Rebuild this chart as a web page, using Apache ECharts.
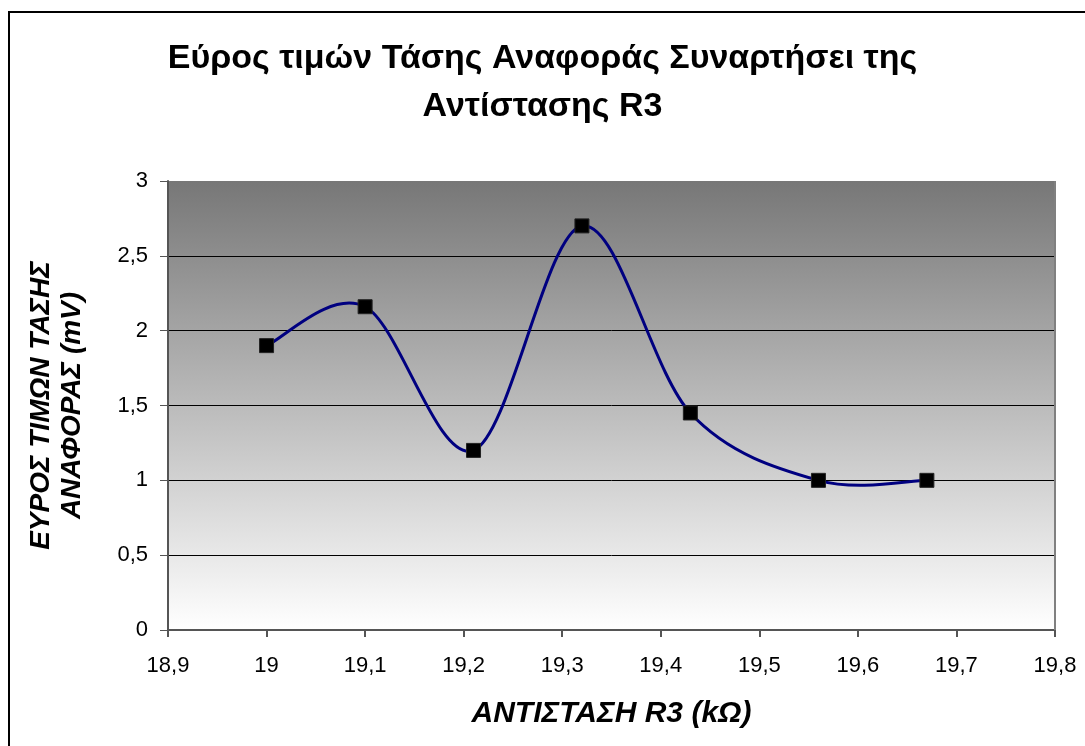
<!DOCTYPE html>
<html>
<head>
<meta charset="utf-8">
<script src="https://cdn.jsdelivr.net/npm/echarts@6/dist/echarts.min.js"></script>
<style>
  html, body { margin: 0; padding: 0; background: #ffffff; }
  #chart { width: 1085px; height: 746px; }
</style>
</head>
<body>
<div id="chart"></div>
<script>
// Resistance R3 (kΩ) and the measured reference-voltage range (mV)
const resistanceR3 = [19.0, 19.1, 19.21, 19.32, 19.43, 19.56, 19.67];
const voltageRange = [1.9, 2.16, 1.2, 2.7, 1.45, 1.0, 1.0];

const titleText = 'Εύρος τιμών Τάσης Αναφοράς Συναρτήσει της\nΑντίστασης R3';
const xAxisTitle = 'ΑΝΤΙΣΤΑΣΗ R3 (kΩ)';
const yAxisTitle = 'ΕΥΡΟΣ ΤΙΜΩΝ ΤΑΣΗΣ\nΑΝΑΦΟΡΑΣ (mV)';

const FONT = '"Liberation Sans", Arial, sans-serif';
const comma = v => String(v).replace('.', ',');
const points = resistanceR3.map((x, i) => [x, voltageRange[i]]);

// Smooth curve: one cubic Bézier per segment, Catmull-Rom style tangents
// computed in pixel space from the neighbouring data points.
function renderSegment(params, api) {
  const i = params.dataIndex;
  if (i >= points.length - 1) return null;
  const px = k => api.coord(points[Math.max(0, Math.min(points.length - 1, k))]);
  const p0 = px(i - 1), p1 = px(i), p2 = px(i + 1), p3 = px(i + 2);
  const t = 1 / 6;
  return {
    type: 'bezierCurve',
    shape: {
      x1: p1[0], y1: p1[1],
      cpx1: p1[0] + (p2[0] - p0[0]) * t,
      cpy1: p1[1] + (p2[1] - p0[1]) * t,
      cpx2: p2[0] - (p3[0] - p1[0]) * t,
      cpy2: p2[1] - (p3[1] - p1[1]) * t,
      x2: p2[0], y2: p2[1]
    },
    style: { fill: null, stroke: '#000080', lineWidth: 3, lineCap: 'round' }
  };
}

const chart = echarts.init(document.getElementById('chart'));
chart.setOption({
  animation: false,
  backgroundColor: '#ffffff',
  graphic: [{
    type: 'rect',
    shape: { x: 9, y: 12, width: 1100, height: 760 },
    style: { fill: 'none', stroke: '#000000', lineWidth: 2 },
    silent: true
  }],
  title: {
    text: titleText,
    left: 'center',
    top: 30,
    textStyle: {
      fontFamily: FONT,
      fontSize: 34,
      fontWeight: 'bold',
      color: '#000000',
      lineHeight: 48
    }
  },
  grid: {
    left: 168,
    right: 30,
    top: 181,
    bottom: 116,
    outerBoundsMode: 'none',
    containLabel: false,
    show: true,
    borderWidth: 0,
    backgroundColor: new echarts.graphic.LinearGradient(0, 0, 0, 1, [
      { offset: 0, color: '#777777' },
      { offset: 1, color: '#ffffff' }
    ])
  },
  xAxis: {
    type: 'value',
    min: 18.9,
    max: 19.8,
    interval: 0.1,
    name: xAxisTitle,
    nameLocation: 'middle',
    nameGap: 69,
    nameTextStyle: {
      fontFamily: FONT,
      fontSize: 30,
      fontWeight: 'bold',
      fontStyle: 'italic',
      color: '#000000'
    },
    axisLine: { show: true, onZero: false, lineStyle: { color: '#555555', width: 2 } },
    axisTick: { show: true, inside: false, length: 7, lineStyle: { color: '#555555', width: 2 } },
    splitLine: { show: false },
    axisLabel: {
      fontFamily: FONT,
      fontSize: 22,
      color: '#000000',
      margin: 25,
      formatter: v => comma(Math.round(v * 10) / 10)
    }
  },
  yAxis: {
    type: 'value',
    min: 0,
    max: 3,
    interval: 0.5,
    name: yAxisTitle,
    nameLocation: 'middle',
    nameGap: 80,
    nameRotate: 90,
    nameTextStyle: {
      fontFamily: FONT,
      fontSize: 28,
      fontWeight: 'bold',
      fontStyle: 'italic',
      color: '#000000',
      lineHeight: 31
    },
    axisLine: { show: true, lineStyle: { color: '#555555', width: 2 } },
    axisTick: { show: true, inside: false, length: 8, lineStyle: { color: '#555555', width: 1 } },
    splitLine: { show: true, showMaxLine: false, lineStyle: { color: '#000000', width: 1 } },
    axisLabel: {
      fontFamily: FONT,
      fontSize: 22,
      color: '#000000',
      margin: 20,
      formatter: v => comma(v)
    }
  },
  series: [{
    type: 'custom',
    data: points,
    renderItem: renderSegment,
    encode: { x: 0, y: 1 },
    silent: true,
    z: 3
  }, {
    type: 'scatter',
    data: points,
    symbol: 'rect',
    symbolSize: 14,
    itemStyle: { color: '#000000', borderColor: '#222222', borderWidth: 1, opacity: 1 },
    z: 4
  }, {
    // right-hand border of the plot area
    type: 'line',
    data: [],
    markLine: {
      silent: true,
      symbol: 'none',
      label: { show: false },
      lineStyle: { color: '#808080', width: 2, type: 'solid' },
      data: [{ xAxis: 19.8 }]
    }
  }]
});
</script>
</body>
</html>
